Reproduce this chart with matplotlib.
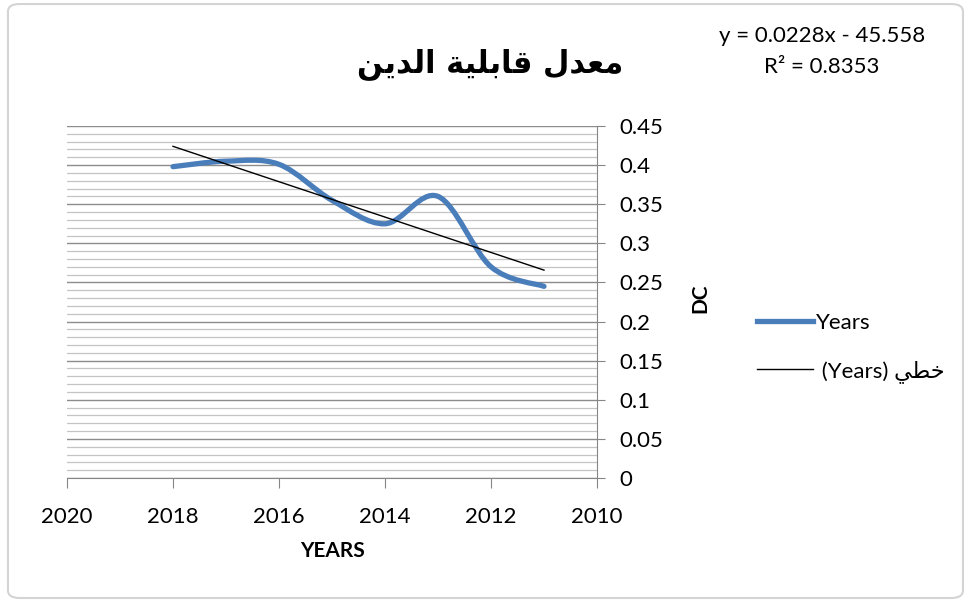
import matplotlib
matplotlib.use("Agg")
import matplotlib.pyplot as plt
import numpy as np
from matplotlib.path import Path
from matplotlib.patches import PathPatch, FancyBboxPatch
from matplotlib.lines import Line2D
from matplotlib.ticker import MultipleLocator, FuncFormatter

# data
years = [2018, 2017, 2016, 2015, 2014, 2013, 2012, 2011]
dc = [0.398, 0.405, 0.401, 0.355, 0.325, 0.360, 0.270, 0.245]
x_ticks = [2020, 2018, 2016, 2014, 2012, 2010]

# Arabic text in visual order using presentation forms (matplotlib does no shaping)
title = "\uFEE6\uFEF3\uFEAA\uFEDF\uFE8D \uFE94\uFEF4\uFEE0\uFE91\uFE8E\uFED7 \uFEDD\uFEAA\uFECC\uFEE3"
trend_label = " (Years) \uFEF2\uFEC4\uFEA7"
eq_text = "y = 0.0228x - 45.558"
r2_text = "R\u00b2 = 0.8353"

plt.rcParams["font.family"] = ["Lato", "DejaVu Sans"]
fs = 16

fig = plt.figure(figsize=(9.72, 6.1), dpi=100)
fig.patch.set_facecolor("white")
border = FancyBboxPatch((0.0082, 0.0197), 0.9825, 0.9737,
                        boxstyle="round,pad=0,rounding_size=0.012",
                        transform=fig.transFigure, ec="#d4d4d4", fc="none",
                        lw=1.5, zorder=-1)
fig.patches.append(border)

ax = fig.add_axes([67 / 972, 1 - 478 / 610, 530 / 972, 352 / 610])
ax.set_xlim(2020, 2010)
ax.set_ylim(0, 0.45)

# smooth line like Excel: cubic Bezier segments through the points
pts = np.column_stack([years, dc])
ext = np.vstack([pts[0], pts, pts[-1]])
verts = [pts[0]]
codes = [Path.MOVETO]
for i in range(len(pts) - 1):
    p0, p1, p2, p3 = ext[i], ext[i + 1], ext[i + 2], ext[i + 3]
    verts += [p1 + (p2 - p0) / 6, p2 - (p3 - p1) / 6, p2]
    codes += [Path.CURVE4] * 3
ax.add_patch(PathPatch(Path(verts, codes), fill=False, ec="#4A7EBB",
                       lw=3.8, capstyle="round", joinstyle="round", zorder=3))

# linear trend
coef = np.polyfit(years, dc, 1)
tx = np.array([years[0], years[-1]])
ax.plot(tx, np.polyval(coef, tx), color="black", lw=1.0, zorder=4)

ax.yaxis.tick_right()
ax.yaxis.set_major_locator(MultipleLocator(0.05))
ax.yaxis.set_minor_locator(MultipleLocator(0.01))
ax.yaxis.set_major_formatter(FuncFormatter(lambda v, p: "%g" % round(v, 2)))
ax.set_xticks(x_ticks)
ax.grid(True, axis="y", which="major", color="#8c8c8c", lw=1.0)
ax.grid(True, axis="y", which="minor", color="#c4c4c4", lw=0.9)
ax.set_axisbelow(True)

for s in ["top", "left"]:
    ax.spines[s].set_visible(False)
for s in ["right", "bottom"]:
    ax.spines[s].set_color("#868686")
ax.tick_params(axis="y", which="minor", length=0)
ax.tick_params(axis="y", which="major", length=6, color="#868686",
               labelsize=fs, pad=10)
ax.tick_params(axis="x", length=7, color="#868686", labelsize=fs, pad=14)

ax.set_xlabel("YEARS", fontsize=fs - 1, fontweight="bold", labelpad=10)
fig.text(700 / 972, 1 - 298 / 610, "DC", rotation=90, fontsize=fs - 1,
         fontweight="bold", ha="center", va="center")

fig.text(490 / 972, 1 - 64 / 610, title, fontsize=22, fontweight="bold",
         ha="center", va="center", family="DejaVu Sans")
fig.text(822 / 972, 1 - 36 / 610, eq_text, fontsize=fs, ha="center", va="center")
fig.text(822 / 972, 1 - 67 / 610, r2_text, fontsize=fs, ha="center", va="center")

handles = [Line2D([], [], color="#4A7EBB", lw=3.8),
           Line2D([], [], color="black", lw=1.0)]
fig.legend(handles, ["Years", trend_label], loc="center left",
           bbox_to_anchor=(746 / 972, 1 - 348 / 610), frameon=False,
           fontsize=fs, handlelength=2.5, handletextpad=0.15,
           labelspacing=1.2, borderpad=0)

fig.savefig("out.png", dpi=100)
plt.close(fig)
